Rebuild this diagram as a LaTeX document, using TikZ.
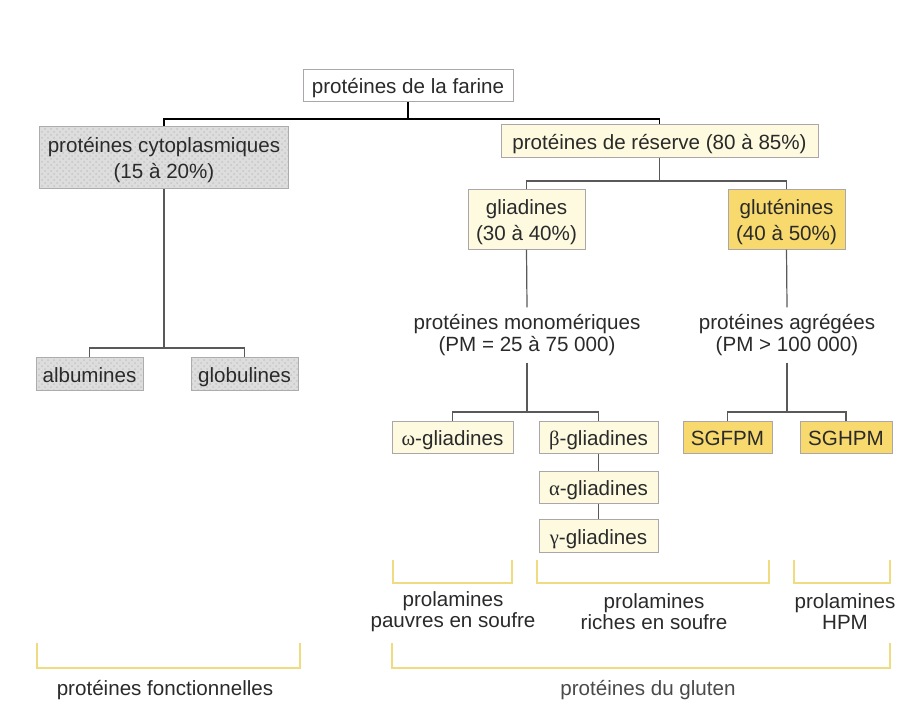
\documentclass[tikz,border=0pt]{standalone}
\usepackage{fontspec}
\setmainfont{Liberation Sans}
\newfontfamily\grk{Liberation Serif}
\usetikzlibrary{patterns}
\definecolor{ink}{HTML}{2A2A2A}
\definecolor{softink}{HTML}{4A4A4A}
\definecolor{cream}{HTML}{FDFADF}
\definecolor{gold}{HTML}{F7D96E}
\definecolor{bracketcol}{HTML}{F0DC80}
\definecolor{boxline}{HTML}{ABA6AA}
% box label: a one-column table keeps one- and two-line texts evenly centred;
% the taller first row sets the text slightly below the box centre
\newcommand\boxtext[1]{\begin{tabular}{@{}c@{}}\rule{0pt}{12.2pt}#1\end{tabular}}
\begin{document}
\begin{tikzpicture}[x=0.5pt, y=-0.5pt,
  every node/.style={font=\fontsize{10.3}{13}\selectfont, text=ink, inner sep=0pt},
  box/.style={draw=boxline, line width=0.5pt, fill=cream},
  whitebox/.style={box, fill=white},
  goldbox/.style={box, fill=gold},
  greybox/.style={draw=gray!65, line width=0.5pt, preaction={fill=gray!27},
                  pattern=crosshatch dots, pattern color=gray!45},
  freetext/.style={font=\fontsize{10.3}{10.6}\selectfont, align=center, inner ysep=3.5pt},
  mainlink/.style={draw=black, line width=0.9pt},
  link/.style={draw=gray!70!black, line width=0.6pt},
  brace/.style={draw=bracketcol, line width=1pt}]
\useasboundingbox (0,0) rectangle (898,708);

% boxes
\node[whitebox, minimum width=105pt, minimum height=15.5pt] (farine) at (408,85.5) {\boxtext{protéines de la farine}};
\node[greybox, minimum width=124.5pt, minimum height=31pt] (cyto) at (164,157) {\boxtext{protéines cytoplasmiques\\(15 à 20\%)}};
\node[greybox, minimum width=53.5pt, minimum height=15pt] (alb) at (89.5,374) {\boxtext{albumines}};
\node[greybox, minimum width=53.5pt, minimum height=15pt] (glob) at (244.5,374) {\boxtext{globulines}};
\node[box, minimum width=158.5pt, minimum height=16pt] (reserve) at (659.5,141) {\boxtext{protéines de réserve (80 à 85\%)}};
\node[box, minimum width=58.5pt, minimum height=30pt] (glia) at (526.5,219) {\boxtext{gliadines\\(30 à 40\%)}};
\node[goldbox, minimum width=58.5pt, minimum height=30pt] (glut) at (786.5,219) {\boxtext{gluténines\\(40 à 50\%)}};
\node[freetext] (mono) at (527,335) {protéines monomériques\\(PM = 25 à 75 000)};
\node[freetext] (agreg) at (787,335) {protéines agrégées\\(PM > 100 000)};
\node[box, minimum width=60.5pt, minimum height=15.5pt] (omega) at (452.5,437.5) {\boxtext{{\grk ω}-gliadines}};
\node[box, minimum width=59.5pt, minimum height=15.5pt] (beta) at (598.5,437.5) {\boxtext{{\grk β}-gliadines}};
\node[box, minimum width=59.5pt, minimum height=14.5pt] (alpha) at (598.5,487.5) {\boxtext{{\grk α}-gliadines}};
\node[box, minimum width=59.5pt, minimum height=16pt] (gamma) at (598.5,536) {\boxtext{{\grk γ}-gliadines}};
\node[goldbox, minimum width=44.5pt, minimum height=15.5pt] (sgf) at (727.5,437.5) {\boxtext{SGFPM}};
\node[goldbox, minimum width=46pt, minimum height=15.5pt] (sgh) at (846,437.5) {\boxtext{SGHPM}};

% tree connectors
\coordinate (j0) at (408,119);
\draw[mainlink] (farine.south) -- (j0);
\draw[mainlink] (cyto.north) -- (cyto.north |- j0) -- (reserve.north |- j0) -- (reserve.north);

\coordinate (j1) at (166,348);
\draw[link] (cyto.south) -- (cyto.south |- j1);
\draw[link] (alb.north) -- (alb.north |- j1) -- (glob.north |- j1) -- (glob.north);

\coordinate (j2) at (660,181);
\draw[link] (reserve.south) -- (reserve.south |- j2);
\draw[link] (glia.north) -- (glia.north |- j2) -- (glut.north |- j2) -- (glut.north);

\draw[link] (glia.south) -- (mono.north);
\coordinate (j3) at (527,412);
\draw[link] (mono.south) -- (mono.south |- j3);
\draw[link] (omega.north) -- (omega.north |- j3) -- (beta.north |- j3) -- (beta.north);
\draw[link] (beta) -- (alpha);
\draw[link] (alpha) -- (gamma);

\draw[link] (glut.south) -- (agreg.north);
\coordinate (j4) at (787,412);
\draw[link] (agreg.south) -- (agreg.south |- j4);
\draw[link] (sgf.north) -- (sgf.north |- j4) -- (sgh.north |- j4) -- (sgh.north);

% groupings
\draw[brace] (393,560) -- (393,583) -- (512,583) -- (512,560);
\draw[brace] (537,560) -- (537,583) -- (769,583) -- (769,560);
\draw[brace] (794,560) -- (794,583) -- (890,583) -- (890,560);
\node[freetext, inner ysep=0pt] (pauvres) at (453,611.5) {prolamines\\pauvres en soufre};
\node[freetext, inner ysep=0pt] (riches) at (654,611.5) {prolamines\\riches en soufre};
\node[freetext, inner ysep=0pt] (hpm) at (845,611.5) {prolamines\\HPM};

\draw[brace] (37,643) -- (37,668) -- (300,668) -- (300,643);
\draw[brace] (392,643) -- (392,668) -- (890,668) -- (890,643);
\node (fonct) at (165,690) {protéines fonctionnelles};
\node[text=softink] (gluten) at (648,690) {protéines du gluten};
\end{tikzpicture}
\end{document}
